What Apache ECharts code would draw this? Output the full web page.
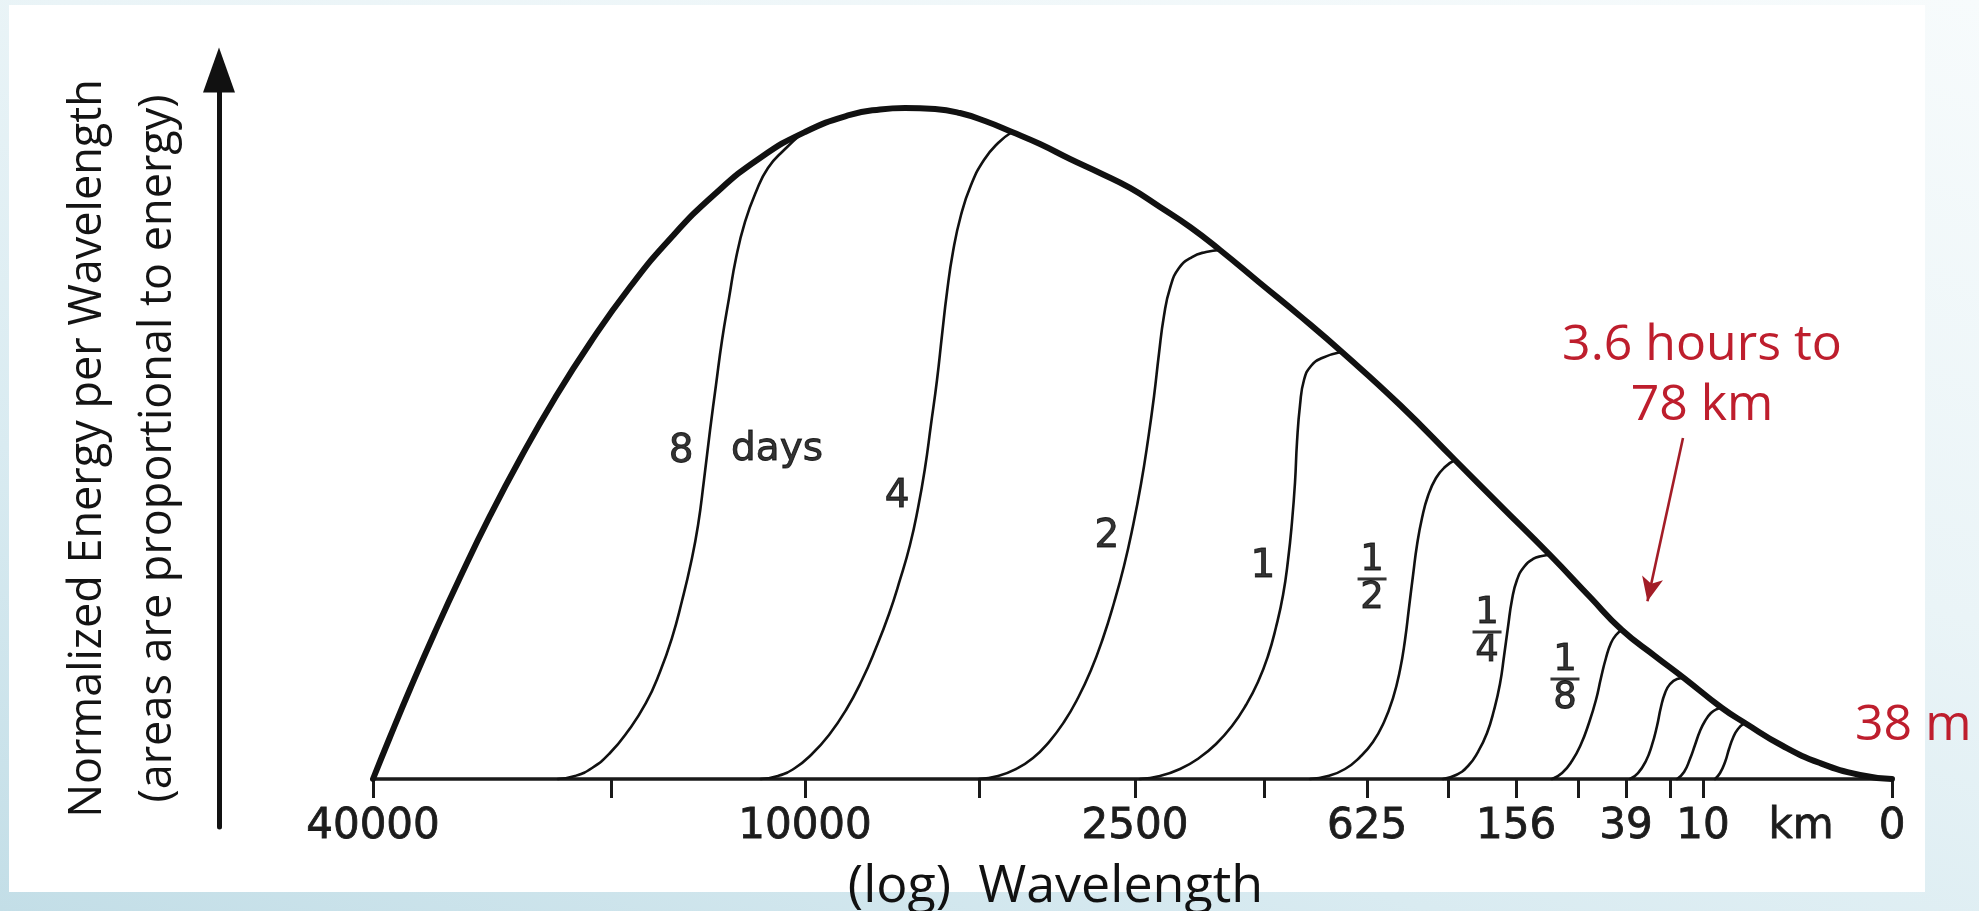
<!DOCTYPE html>
<html>
<head>
<meta charset="utf-8">
<title>Wave energy by wavelength</title>
<script src="https://cdn.jsdelivr.net/npm/echarts@6/dist/echarts.min.js"></script>
<style>
  html, body { margin: 0; padding: 0; width: 1979px; height: 911px; overflow: hidden; }
  body { background: linear-gradient(18deg, #c3dee7 0%, #d9ebf1 30%, #eaf4f7 60%, #f7fbfc 100%); }
  #chart { position: absolute; left: 0; top: 0; width: 1979px; height: 911px; }
</style>
</head>
<body>
<div id="chart"></div>
<script>
// The printed wavelength scale is hand spaced, so every value below is a
// position along that scale: 0 = 40000 km, 100 = 0 km.
const tickLabels    = ['40000', '20000', '10000', '5000', '2500', '1250', '625', '312', '156', '78', '39', '20', '10', '0'];
const tickPositions = [0, 15.67, 28.44, 39.89, 50.16, 58.66, 65.44, 70.77, 75.25, 79.33, 82.49, 85.39, 87.56, 100];
const printedTicks  = ['40000', '10000', '2500', '625', '156', '39', '10', '0'];
const unitText = 'km';
const unitPosition = 94.01;

// Normalized energy per wavelength (peak = 100): [scale position, energy]
const envelope = [
  [0, 0], [1.12, 6.26], [2.44, 13.41], [4.08, 21.91], [5.73, 30.03], [7.70, 39.20],
  [9.68, 47.69], [11.98, 56.78], [14.29, 64.98], [16.92, 73.32], [19.55, 80.48],
  [22.51, 87.18], [25.48, 92.55], [28.44, 96.42], [31.40, 98.96], [33.38, 99.78],
  [35.02, 100], [37.00, 99.85], [38.64, 99.25], [40.29, 98.06], [42.07, 96.42],
  [43.91, 94.63], [45.89, 92.40], [47.86, 90.31], [49.84, 88.08], [51.81, 85.25],
  [53.79, 82.27], [55.76, 78.84], [58.39, 73.92], [61.03, 69.00], [63.86, 63.49],
  [67.61, 55.74], [71.23, 47.54], [74.19, 40.83], [77.49, 33.38], [80.12, 27.12],
  [82.22, 22.21], [84.40, 18.33], [86.31, 15.05], [88.81, 10.58], [90.32, 8.35],
  [92.82, 4.92], [95.26, 2.38], [97.89, 0.60], [100, 0]
];

// Energy reached by waves of each period
const curve8Days = [
  [12.18, 0], [13.30, 0.45], [14.42, 1.64], [15.60, 3.87], [16.79, 7.15], [17.97, 11.33],
  [18.89, 15.95], [19.68, 21.01], [20.34, 26.53], [20.93, 32.19], [21.40, 37.85],
  [21.79, 44.56], [22.19, 52.01], [22.58, 58.72], [22.98, 65.42], [23.44, 71.68],
  [23.90, 77.64], [24.49, 83.01], [25.21, 87.48], [26.00, 91.06], [27.06, 93.74], [28.31, 96.35]
];
const curve4Days = [
  [25.54, 0], [26.66, 0.45], [27.78, 1.64], [28.90, 3.73], [30.02, 6.56], [31.14, 10.28],
  [32.19, 14.75], [33.11, 19.52], [33.97, 24.59], [34.69, 29.66], [35.35, 34.87],
  [35.88, 40.39], [36.34, 46.35], [36.73, 52.76], [37.13, 59.46], [37.46, 66.17],
  [37.79, 72.58], [38.18, 78.54], [38.71, 84.05], [39.37, 88.52], [40.22, 92.25],
  [41.15, 94.78], [42.07, 96.42]
];
const curve2Days = [
  [39.89, 0], [41.15, 0.45], [42.33, 1.49], [43.45, 3.13], [44.50, 5.51], [45.49, 8.49],
  [46.41, 12.07], [47.27, 16.24], [48.06, 21.01], [48.78, 26.23], [49.44, 31.74],
  [50.03, 37.70], [50.56, 43.96], [51.02, 50.52], [51.42, 57.08], [51.74, 63.34],
  [52.07, 69.00], [52.47, 73.17], [53.06, 76.15], [53.92, 77.79], [54.84, 78.54], [55.76, 78.84]
];
const curve1Day = [
  [50.49, 0], [51.81, 0.45], [53.13, 1.49], [54.38, 3.13], [55.50, 5.22], [56.55, 7.90],
  [57.47, 11.03], [58.26, 14.46], [58.92, 18.33], [59.45, 22.65], [59.91, 27.42],
  [60.24, 32.64], [60.50, 38.30], [60.70, 44.26], [60.83, 50.22], [61.03, 55.74],
  [61.29, 59.46], [61.75, 61.55], [62.48, 62.74], [63.73, 63.64]
];
const curveHalfDay = [
  [61.69, 0], [62.87, 0.45], [63.99, 1.49], [64.98, 3.28], [65.83, 5.51], [66.56, 8.49],
  [67.15, 12.07], [67.61, 16.24], [67.94, 20.72], [68.20, 25.48], [68.47, 30.40],
  [68.73, 34.87], [69.06, 38.90], [69.45, 42.18], [69.98, 44.86], [70.57, 46.50], [71.23, 47.54]
];
const curveQuarterDay = [
  [70.44, 0], [71.30, 0.60], [72.09, 1.94], [72.74, 4.02], [73.34, 6.86], [73.80, 10.28],
  [74.19, 14.16], [74.46, 18.33], [74.72, 22.65], [74.98, 26.68], [75.31, 29.66],
  [75.77, 31.59], [76.37, 32.79], [76.96, 33.23], [77.49, 33.38]
];
const curveEighthDay = [
  [77.62, 0], [78.28, 0.89], [78.93, 2.68], [79.53, 5.22], [80.05, 8.35], [80.51, 11.77],
  [80.84, 15.05], [81.17, 18.03], [81.50, 20.27], [81.83, 21.46], [82.22, 22.21]
];
const curveSixteenthDay = [
  [82.75, 0], [83.28, 0.89], [83.80, 2.68], [84.20, 5.07], [84.53, 7.90], [84.79, 10.73],
  [85.06, 12.82], [85.39, 14.16], [85.85, 14.90], [86.31, 15.05]
];
const curveThirtySecondDay = [
  [85.85, 0], [86.31, 1.04], [86.70, 2.98], [87.03, 5.07], [87.36, 7.15], [87.69, 8.64],
  [88.08, 9.84], [88.48, 10.43], [88.81, 10.58]
];
const curveSixtyFourthDay = [
  [88.35, 0], [88.68, 0.89], [89.01, 2.53], [89.27, 4.47], [89.53, 6.11], [89.86, 7.45], [90.32, 8.35]
];

// Period labels written beside the curves
const periodTexts = ['8', 'days', '4', '2', '1', '1/2', '1/4', '1/8'];

// ---- layout / annotation placement (data coordinates) ----
const periodAnchors = [
  [20.28, 48.73], [26.60, 49.03], [34.50, 42.03], [48.32, 36.07],
  [58.59, 31.59], [65.77, 29.81], [73.34, 21.91], [78.47, 14.90]
];
const pointerFrom = [86.24, 50.82];
const pointerTo = [83.90, 26.48];

const INK = '#111111';
const RED = '#be1e2d';

const periodCurves = [
  curve8Days, curve4Days, curve2Days, curve1Day, curveHalfDay, curveQuarterDay,
  curveEighthDay, curveSixteenthDay, curveThirtySecondDay, curveSixtyFourthDay
];

const printedPositions = printedTicks.map(t => tickPositions[tickLabels.indexOf(t)]);
const labelValues = printedPositions.concat([unitPosition]);
const labelTexts = printedTicks.concat([unitText]);

function tickText(value) {
  const i = labelValues.findIndex(p => Math.abs(p - value) < 1e-6);
  return i >= 0 ? labelTexts[i] : '';
}

function periodFormatter(text) {
  if (text.indexOf('/') >= 0) {
    const parts = text.split('/');
    return '{n|' + parts[0] + '}\n{bar|}\n{n|' + parts[1] + '}';
  }
  return '{t|' + text + '}';
}

const figureFont = 'DejaVu Sans';
const slideFont = 'Open Sans';

const series = periodCurves.map((pts, i) => ({
  type: 'line',
  name: 'period ' + i,
  xAxisIndex: 0,
  yAxisIndex: 0,
  data: pts,
  showSymbol: false,
  symbol: 'none',
  smooth: 0.5,
  clip: false,
  z: 2,
  lineStyle: { color: INK, width: 2.6, cap: 'round', join: 'round' },
  silent: true
}));

series.push({
  type: 'line',
  name: 'envelope',
  xAxisIndex: 0,
  yAxisIndex: 0,
  data: envelope,
  symbol: 'none',
  showSymbol: false,
  smooth: 0.5,
  clip: false,
  z: 4,
  lineStyle: { color: INK, width: 6, cap: 'round', join: 'round' },
  silent: true
});

const heavyText = { textBorderColor: '#000', textBorderWidth: 0.9 };

series.push({
  type: 'scatter',
  name: 'period labels',
  xAxisIndex: 0,
  yAxisIndex: 0,
  symbolSize: 1,
  itemStyle: { color: 'rgba(0,0,0,0)' },
  z: 5,
  silent: true,
  data: periodTexts.map((t, i) => ({
    value: periodAnchors[i],
    label: { formatter: periodFormatter(t) }
  })),
  label: {
    show: true,
    position: 'inside',
    color: '#000',
    rich: {
      t: Object.assign({ fontFamily: figureFont, fontSize: 39, lineHeight: 40, color: '#000' }, heavyText),
      n: Object.assign({ fontFamily: figureFont, fontSize: 37, lineHeight: 32, color: '#000', align: 'center' }, heavyText),
      bar: { width: 29, height: 3, lineHeight: 6, backgroundColor: '#000', align: 'center' }
    }
  },
  markLine: {
    silent: true,
    animation: false,
    symbol: ['none', 'arrow'],
    symbolSize: [16, 24],
    label: { show: false },
    lineStyle: { color: '#a31d27', width: 2.6, type: 'solid' },
    emphasis: { disabled: true },
    data: [[{ coord: pointerFrom }, { coord: pointerTo }]]
  }
});

const chart = echarts.init(document.getElementById('chart'), null, { renderer: 'canvas' });

chart.setOption({
  animation: false,
  backgroundColor: 'transparent',
  grid: [
    // plotting area: bottom edge is the wavelength baseline
    { left: 373, right: 87, top: 70, bottom: 132, containLabel: false, outerBoundsMode: 'none' },
    // narrow grid carrying the energy arrow
    { left: 219, width: 10, top: 70, bottom: 84, containLabel: false, outerBoundsMode: 'none' }
  ],
  xAxis: [
    {
      type: 'value',
      gridIndex: 0,
      min: 0,
      max: 100,
      name: '(log)  Wavelength',
      nameLocation: 'middle',
      nameGap: 82,
      nameMoveOverlap: false,
      nameTextStyle: {
        fontFamily: slideFont, fontSize: 52, lineHeight: 52, color: '#111',
        padding: [0, 154, 0, 0]
      },
      axisLine: { show: true, onZero: false, lineStyle: { color: '#1a1a1a', width: 3.5 } },
      axisTick: {
        show: true, inside: false, length: 19,
        customValues: tickPositions,
        lineStyle: { color: '#1a1a1a', width: 3 }
      },
      axisLabel: Object.assign({
        show: true,
        customValues: labelValues,
        formatter: tickText,
        margin: 27,
        fontFamily: figureFont, fontSize: 42, lineHeight: 42, color: '#1c1c1c',
        showMinLabel: true, showMaxLabel: true, hideOverlap: false
      }, { textBorderColor: '#1c1c1c', textBorderWidth: 0.8 }),
      splitLine: { show: false }
    },
    {
      type: 'value',
      gridIndex: 1,
      show: false,
      min: 0,
      max: 1
    }
  ],
  yAxis: [
    {
      type: 'value',
      gridIndex: 0,
      min: 0,
      max: 105.66,
      show: false,
      splitLine: { show: false }
    },
    {
      type: 'value',
      gridIndex: 1,
      min: 0,
      max: 1,
      position: 'left',
      name: 'Normalized Energy per Wavelength\n(areas are proportional to energy)',
      nameLocation: 'middle',
      nameRotate: 90,
      nameGap: 26,
      nameMoveOverlap: false,
      nameTextStyle: { fontFamily: slideFont, fontSize: 45, lineHeight: 70, color: '#141414' },
      axisLine: {
        show: true, onZero: false,
        symbol: ['none', 'triangle'],
        symbolSize: [32, 45],
        lineStyle: { color: '#111', width: 5 }
      },
      axisTick: { show: false },
      axisLabel: { show: false },
      splitLine: { show: false }
    }
  ],
  graphic: [
    {
      type: 'rect', z: -100, silent: true,
      shape: { x: 9, y: 5, width: 1916, height: 887 },
      style: { fill: '#ffffff' }
    },
    {
      type: 'text', z: 10, silent: true,
      x: 1702, y: 316,
      style: {
        text: '3.6 hours to\n78 km',
        fontFamily: slideFont, fontSize: 50, lineHeight: 60,
        fill: RED, align: 'center', verticalAlign: 'top'
      }
    },
    {
      type: 'text', z: 10, silent: true,
      x: 1855, y: 701,
      style: {
        text: '38 m',
        fontFamily: slideFont, fontSize: 50, lineHeight: 50,
        fill: RED, align: 'left', verticalAlign: 'top'
      }
    }
  ],
  series: series
});
</script>
</body>
</html>
